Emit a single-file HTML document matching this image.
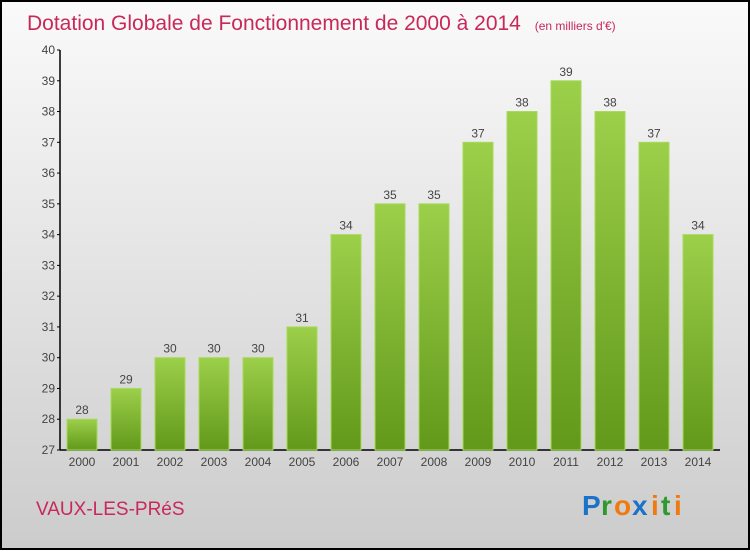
<!DOCTYPE html>
<html><head><meta charset="utf-8"><style>
body{margin:0;}
#c{width:750px;height:550px;}
text{font-family:"Liberation Sans",sans-serif;}
</style></head><body>
<svg id="c" width="750" height="550">
<defs>
<linearGradient id="bg" x1="0" y1="0" x2="0" y2="1"><stop offset="0" stop-color="#fafafa"/><stop offset="1" stop-color="#cccccc"/></linearGradient>
<linearGradient id="bar" x1="0" y1="0" x2="0" y2="1"><stop offset="0" stop-color="#9ccf4a"/><stop offset="1" stop-color="#62991a"/></linearGradient>
</defs>
<rect x="1" y="1" width="748" height="548" fill="url(#bg)" stroke="#000" stroke-width="2"/>
<text x="27" y="30" font-size="21" fill="#c8285a">Dotation Globale de Fonctionnement de 2000 à 2014 <tspan font-size="12" dx="8">(en milliers d'€)</tspan></text>
<g id="axes"></g>
<g id="bars"></g>
<text x="36" y="515" font-size="19" fill="#c8285a">VAUX-LES-PRéS</text>
<g font-size="28" font-weight="bold" font-family="Liberation Sans">
<text x="582" y="515" fill="#1a73c8">P</text><text x="601" y="515" fill="#2e9a2e">r</text><text x="614" y="515" fill="#f07a10">o</text><text x="632" y="515" fill="#1a73c8">x</text><text x="651" y="515" fill="#f07a10">i</text><text x="661" y="515" fill="#2e9a2e">t</text><text x="674" y="515" fill="#f07a10">i</text>
</g>
</svg>
<script>
const categories=["2000","2001","2002","2003","2004","2005","2006","2007","2008","2009","2010","2011","2012","2013","2014"];
const values=[28,29,30,30,30,31,34,35,35,37,38,39,38,37,34];
const yTicks=[27,28,29,30,31,32,33,34,35,36,37,38,39,40];
const NS="http://www.w3.org/2000/svg";
const y0=450,yTop=50,vMin=27,vMax=40;
function y(v){return y0-(v-vMin)*(y0-yTop)/(vMax-vMin);}
function x(i){return 82+i*44;}
function el(t,a,p){const e=document.createElementNS(NS,t);for(const k in a)e.setAttribute(k,a[k]);p.appendChild(e);return e;}
const ax=document.getElementById('axes'),bg=document.getElementById('bars');
let l=el('line',{x1:60,y1:50,x2:60,y2:y0,stroke:'#000','stroke-width':1.5},ax);


l=el('line',{x1:60,y1:y0,x2:720,y2:y0,stroke:'#000','stroke-width':1.5},ax);


yTicks.forEach(v=>{
 el('line',{x1:57,y1:y(v),x2:60,y2:y(v),stroke:'#000'},ax);
 const t=el('text',{x:55,y:y(v)+4,'font-size':12,fill:'#444','text-anchor':'end'},ax);
 t.textContent=v;
 
 
});
categories.forEach((c,i)=>{
 const t=el('text',{x:x(i),y:466,'font-size':12,fill:'#444','text-anchor':'middle'},ax);
 t.textContent=c;
 
 
 const r=el('rect',{x:x(i)-15,y:y(values[i]),width:30,height:y0-y(values[i]),fill:'url(#bar)',stroke:'#a6da5a','stroke-width':1},bg);
 
 
 const lb=el('text',{x:x(i),y:y(values[i])-5,'font-size':12,fill:'#444','text-anchor':'middle'},bg);
 lb.textContent=values[i];
 
 
});
</script>
</body></html>
